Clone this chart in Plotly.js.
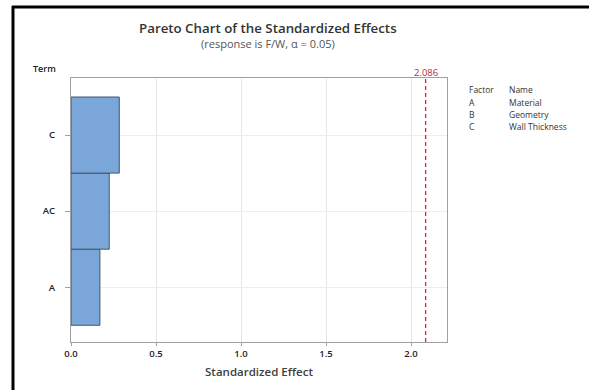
<!DOCTYPE html>
<html>
<head>
<meta charset="utf-8">
<script src="https://cdn.plot.ly/plotly-3.0.1.min.js"></script>
<style>
html,body{margin:0;padding:0;background:#fff;}
#chart{width:589px;height:390px;}
</style>
</head>
<body>
<div id="chart"></div>
<script>
// Data
const terms = ["A", "AC", "C"];
const effects = [0.170, 0.225, 0.284];
const criticalValue = 2.086;
const xTicks = [0.0, 0.5, 1.0, 1.5, 2.0];
const xTickLabels = ["0.0", "0.5", "1.0", "1.5", "2.0"];
const factorCodes = ["A", "B", "C"];
const factorNames = ["Material", "Geometry", "Wall Thickness"];

const L = 71, R = 142, T = 78, B = 48, W = 589, H = 390;
const pw = W - L - R, ph = H - T - B;
const px = x => (x - L) / pw;
const py = y => (H - B - y) / ph;

const font = "'Open Sans', 'Noto Sans', sans-serif";

const trace = {
  type: "bar",
  orientation: "h",
  y: terms,
  x: effects,
  width: 1,
  marker: {color: "#7BA6D9", line: {color: "#44546A", width: 1}},
  hoverinfo: "x+y"
};

const annotations = [
  {text: "Pareto Chart of the Standardized Effects", xref: "paper", yref: "paper",
   x: px(268), y: py(28), showarrow: false, xanchor: "center", yanchor: "middle",
   font: {family: font, size: 13.3, weight: 600, color: "#333333"}},
  {text: "(response is F/W, \u03b1 = 0.05)", xref: "paper", yref: "paper",
   x: px(268), y: py(44), showarrow: false, xanchor: "center", yanchor: "middle",
   font: {family: font, size: 11, color: "#555555"}},
  {text: "Term", xref: "paper", yref: "paper",
   x: px(31), y: py(68), showarrow: false, xanchor: "left", yanchor: "middle",
   font: {family: font, size: 9, weight: 600, color: "#222222"}},
  {text: String(criticalValue.toFixed(3)), xref: "x", yref: "paper",
   x: criticalValue, y: py(72), showarrow: false, xanchor: "center", yanchor: "middle",
   font: {family: font, size: 9.5, color: "#C0282D"}},
  {text: "Factor", xref: "paper", yref: "paper", x: px(467), y: py(90), showarrow: false,
   xanchor: "left", yanchor: "middle", font: {family: font, size: 8.5, color: "#333333"}},
  {text: "Name", xref: "paper", yref: "paper", x: px(507), y: py(90), showarrow: false,
   xanchor: "left", yanchor: "middle", font: {family: font, size: 8.5, color: "#333333"}}
];
factorCodes.forEach((c, i) => {
  const yy = 102 + i * 12.3;
  annotations.push({text: c, xref: "paper", yref: "paper", x: px(467), y: py(yy), showarrow: false,
    xanchor: "left", yanchor: "middle", font: {family: font, size: 8.5, color: "#333333"}});
  annotations.push({text: factorNames[i], xref: "paper", yref: "paper", x: px(507), y: py(yy), showarrow: false,
    xanchor: "left", yanchor: "middle", font: {family: font, size: 8.5, color: "#333333"}});
});

const shapes = [
  {type: "line", xref: "x", yref: "paper", x0: criticalValue, x1: criticalValue, y0: 0, y1: 1,
   line: {color: "#EE1C24", width: 1.3, dash: "4px,3px"}},
  // outer frame (left and top)
  {type: "line", xref: "paper", yref: "paper", x0: px(13), x1: px(13), y0: py(6), y1: py(392),
   line: {color: "#000000", width: 3}},
  {type: "line", xref: "paper", yref: "paper", x0: px(12), x1: px(592), y0: py(7), y1: py(7),
   line: {color: "#000000", width: 3}}
];

const layout = {
  width: W, height: H,
  margin: {l: L, r: R, t: T, b: B, pad: 0},
  paper_bgcolor: "#ffffff", plot_bgcolor: "#ffffff",
  showlegend: false,
  bargap: 0,
  xaxis: {
    range: [0, (447 - 71) / 170],
    tickvals: xTicks, ticktext: xTickLabels,
    showgrid: true, gridcolor: "#E6E6E6", gridwidth: 1,
    zeroline: false,
    showline: true, linecolor: "#A0A0A0", linewidth: 1, mirror: true,
    ticks: "outside", ticklen: 3, tickcolor: "#A0A0A0",
    tickfont: {family: font, size: 9.5, weight: 600, color: "#222222"},
    title: {text: "Standardized Effect", standoff: 8, font: {family: font, size: 11.5, weight: 600, color: "#404040"}}
  },
  yaxis: {
    type: "category",
    categoryorder: "array", categoryarray: terms,
    range: [-0.72, 2.75],
    showgrid: true, gridcolor: "#EDEDED", gridwidth: 1,
    zeroline: false,
    showline: true, linecolor: "#A0A0A0", linewidth: 1, mirror: true,
    ticks: "outside", ticklen: 5, tickcolor: "#A0A0A0",
    ticklabelstandoff: 8,
    tickfont: {family: font, size: 9.5, weight: 600, color: "#222222"}
  },
  annotations: annotations,
  shapes: shapes
};

Plotly.newPlot("chart", [trace], layout, {displayModeBar: false, staticPlot: true});
</script>
</body>
</html>
